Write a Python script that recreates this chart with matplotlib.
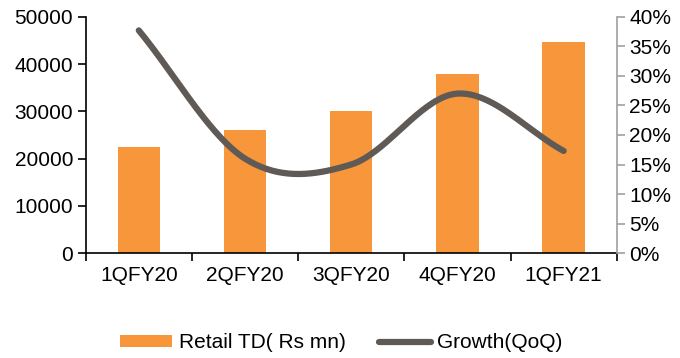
import numpy as np
import matplotlib
matplotlib.use('Agg')
import matplotlib.pyplot as plt
from matplotlib.ticker import FuncFormatter

plt.rcParams['font.family'] = ['Liberation Sans', 'DejaVu Sans']

# data
quarters = ['1QFY20', '2QFY20', '3QFY20', '4QFY20', '1QFY21']
retail_td = [22500, 26000, 30000, 38000, 44600]
growth = [37.7, 16.0, 15.0, 27.0, 17.3]

bar_color = '#f7963a'
line_color = '#605a56'


def smooth(xs, ys, n=40):
    # catmull-rom curve through the points, like excel's smoothed line
    xs = np.asarray(xs, float)
    ys = np.asarray(ys, float)
    px = np.concatenate([[2 * xs[0] - xs[1]], xs, [2 * xs[-1] - xs[-2]]])
    py = np.concatenate([[2 * ys[0] - ys[1]], ys, [2 * ys[-1] - ys[-2]]])
    outx, outy = [], []
    t = np.linspace(0, 1, n)
    for i in range(1, len(px) - 2):
        for p, out in ((px, outx), (py, outy)):
            p0, p1, p2, p3 = p[i - 1], p[i], p[i + 1], p[i + 2]
            m1 = (p2 - p0) / 2
            m2 = (p3 - p1) / 2
            h = (2 * t**3 - 3 * t**2 + 1) * p1 + (t**3 - 2 * t**2 + t) * m1 \
                + (-2 * t**3 + 3 * t**2) * p2 + (t**3 - t**2) * m2
            out.extend(h)
    return np.array(outx), np.array(outy)


fig = plt.figure(figsize=(6.8, 3.58), dpi=100)
ax = fig.add_axes([0.126, 0.293, 0.781, 0.66])
x = np.arange(len(quarters))

bars = ax.bar(x, retail_td, width=0.4, color=bar_color, label='Retail TD( Rs mn)', zorder=2)
ax.set_xlim(-0.5, len(quarters) - 0.5)
ax.set_ylim(0, 50000)
ax.set_yticks(np.arange(0, 50001, 10000))
ax.set_xticks(x)
ax.set_xticklabels(quarters)
ax.set_xticks(np.arange(-0.5, len(quarters), 1), minor=True)
ax.tick_params(axis='x', which='major', length=0, labelsize=15, pad=9)
ax.tick_params(axis='x', which='minor', length=6, width=1.2, direction='out', color='black')
ax.tick_params(axis='y', length=6, width=1.2, labelsize=15, direction='out', pad=3)
for s in ['top', 'right']:
    ax.spines[s].set_visible(False)
ax.spines['left'].set_linewidth(1.2)
ax.spines['bottom'].set_linewidth(1.2)

ax2 = ax.twinx()
sx, sy = smooth(x, growth)
line, = ax2.plot(sx, sy, color=line_color, lw=4.5, solid_capstyle='round', label='Growth(QoQ)', zorder=3)
ax2.set_ylim(0, 40)
ax2.set_yticks(np.arange(0, 41, 5))
ax2.yaxis.set_major_formatter(FuncFormatter(lambda v, p: '%d%%' % v))
ax2.tick_params(axis='y', length=6, width=1.2, labelsize=15, direction='out', color='#a0a0a0', pad=3)
for s in ['top', 'left', 'bottom']:
    ax2.spines[s].set_visible(False)
ax2.spines['right'].set_color('#a0a0a0')
ax2.spines['right'].set_linewidth(1.2)

fig.legend([bars, line], ['Retail TD( Rs mn)', 'Growth(QoQ)'], loc='center',
           bbox_to_anchor=(0.502, 0.042), ncol=2, frameon=False, fontsize=15,
           handlelength=2.5, handleheight=0.5, handletextpad=0.3, columnspacing=1.6)

plt.savefig('out.png', dpi=100)
